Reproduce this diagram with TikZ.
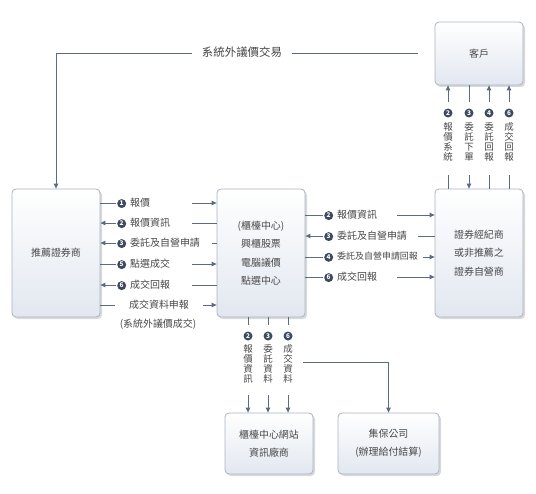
\documentclass[tikz,border=0pt]{standalone}
\usepackage{fontspec}
\setmainfont{Noto Sans CJK TC}
\usetikzlibrary{arrows.meta,shadows,calc}
\definecolor{lnc}{HTML}{5C6B82}
\definecolor{txt}{HTML}{474747}
\definecolor{bd}{HTML}{A9B3C6}
\definecolor{boxb}{HTML}{E2E7F0}
\definecolor{numc}{HTML}{3E4A5E}
\tikzset{numcirc/.style={circle,fill=numc,text=white,inner sep=0pt,minimum size=9bp,font=\bfseries\fontsize{6.5}{6.5}\selectfont}}
\newcommand\cnum[1]{\tikz[baseline=-0.5ex]\node[numcirc]{#1};\hspace{4bp}}
\begin{document}
\begin{tikzpicture}[x=1bp,y=-1bp,text=txt,
  box/.style={draw=bd,line width=0.8bp,rounded corners=4bp,top color=white,bottom color=boxb,
    drop shadow={shadow xshift=2bp,shadow yshift=-2bp,fill=black,opacity=0.15},
    align=center,text=txt,inner sep=0pt,font=\fontsize{10}{18.5}\selectfont},
  ln/.style={draw=lnc,line width=0.9bp},
  arr/.style={ln,-{Triangle[length=5bp,width=4.5bp]}},
  lab/.style={inner sep=1bp,anchor=west,font=\fontsize{10}{12}\selectfont},
  vlab/.style={align=center,inner sep=0pt,anchor=north,font=\fontsize{9.5}{10}\selectfont}]
\useasboundingbox (0,0) rectangle (536,494);

% boxes
\node[box,minimum width=88bp,minimum height=63bp] (K) at (479,53.5) {客戶};
\node[box,minimum width=88bp,minimum height=128bp] (L) at (56,253) {推薦證券商};
\node[box,minimum width=88bp,minimum height=128bp] (C) at (261,253) {(櫃檯中心)\\興櫃股票\\電腦議價\\點選中心};
\node[box,minimum width=88bp,minimum height=128bp] (R) at (479,253) {證券經紀商\\或非推薦之\\證券自營商};
\node[box,minimum width=88bp,minimum height=61bp] (W) at (269,443.5) {櫃檯中心網站\\資訊廠商};
\node[box,minimum width=101bp,minimum height=61bp] (J) at (388.5,443.5) {集保公司\\(辦理給付結算)};

% top line
\coordinate (tk) at (418,53);
\draw[arr] (tk) -| (L.north);
\node[fill=white,inner xsep=10bp,inner ysep=2bp,font=\fontsize{11.5}{12}\selectfont] (tl) at (242,52) {系統外議價交易};

% left rows
\node[lab] (a1) at (116,203) {\cnum{1}報價};
\draw[ln] (a1.west) -- (a1.west -| L.east);
\coordinate (a1e) at (192,203);
\draw[arr] (a1e) -- (a1e -| C.west);

\node[lab] (a2) at (116,223) {\cnum{2}報價資訊};
\draw[arr] (a2.west) -- (a2.west -| L.east);
\coordinate (a2e) at (192,223);
\draw[ln] (a2e) -- (a2e -| C.west);

\node[lab] (a3) at (116,243) {\cnum{3}委託及自營申請};
\draw[arr] (a3.west) -- (a3.west -| L.east);
\coordinate (a3e) at (212,243);
\draw[ln] (a3e) -- (a3e -| C.west);

\node[lab] (a4) at (116,264) {\cnum{5}點選成交};
\draw[ln] (a4.west) -- (a4.west -| L.east);
\coordinate (a4e) at (192,264);
\draw[arr] (a4e) -- (a4e -| C.west);

\node[lab] (a5) at (116,285) {\cnum{6}成交回報};
\draw[arr] (a5.west) -- (a5.west -| L.east);
\coordinate (a5e) at (192,285);
\draw[ln] (a5e) -- (a5e -| C.west);

\node[inner sep=1bp,font=\fontsize{10}{12}\selectfont] (a6) at (159,305) {成交資料申報};
\coordinate (a6w) at (115,305);
\draw[ln] (a6w) -- (a6w -| L.east);
\coordinate (a6e) at (203,305);
\draw[arr] (a6e) -- (a6e -| C.west);
\node[inner sep=1bp,font=\fontsize{10}{12}\selectfont] (a7) at (158,324) {(系統外議價成交)};

% right rows
\node[lab] (b1) at (323,215) {\cnum{2}報價資訊};
\draw[ln] (b1.west) -- (b1.west -| C.east);
\coordinate (b1e) at (397,215);
\draw[arr] (b1e) -- (b1e -| R.west);

\node[lab] (b2) at (323,236) {\cnum{3}委託及自營申請};
\draw[arr] (b2.west) -- (b2.west -| C.east);
\coordinate (b2e) at (418,236);
\draw[ln] (b2e) -- (b2e -| R.west);

\node[lab,font=\fontsize{9}{11}\selectfont] (b3) at (323,257) {\cnum{4}委託及自營申請回報};
\draw[ln] (b3.west) -- (b3.west -| C.east);
\coordinate (b3e) at (423,257);
\draw[arr] (b3e) -- (b3e -| R.west);

\node[lab] (b4) at (323,277) {\cnum{6}成交回報};
\draw[ln] (b4.west) -- (b4.west -| C.east);
\coordinate (b4e) at (397,277);
\draw[arr] (b4e) -- (b4e -| R.west);

% client verticals
\node[numcirc] (k1n) at (448,113) {2};
\node[vlab] (k1) at (448,122) {報\\價\\系\\統};
\draw[arr] ($(k1n)+(0,-11)$) -- (k1n |- K.south);
\draw[ln] ($(k1n)+(0,62)$) -- (k1n |- R.north);

\node[numcirc] (k2n) at (469,113) {3};
\node[vlab] (k2) at (469,122) {委\\託\\下\\單};
\draw[ln] ($(k2n)+(0,-11)$) -- (k2n |- K.south);
\draw[arr] ($(k2n)+(0,62)$) -- (k2n |- R.north);

\node[numcirc] (k3n) at (489,113) {4};
\node[vlab] (k3) at (489,122) {委\\託\\回\\報};
\draw[arr] ($(k3n)+(0,-11)$) -- (k3n |- K.south);
\draw[ln] ($(k3n)+(0,62)$) -- (k3n |- R.north);

\node[numcirc] (k4n) at (509,113) {6};
\node[vlab] (k4) at (509,122) {成\\交\\回\\報};
\draw[arr] ($(k4n)+(0,-11)$) -- (k4n |- K.south);
\draw[ln] ($(k4n)+(0,62)$) -- (k4n |- R.north);

% bottom verticals
\node[numcirc] (c1n) at (248,336) {2};
\node[vlab] (c1) at (248,344) {報\\價\\資\\訊};
\draw[ln] ($(c1n)+(0,-11)$) -- (c1n |- C.south);
\draw[arr] ($(c1n)+(0,59)$) -- (c1n |- W.north);

\node[numcirc] (c2n) at (268,336) {3};
\node[vlab] (c2) at (268,344) {委\\託\\資\\料};
\draw[ln] ($(c2n)+(0,-11)$) -- (c2n |- C.south);
\draw[arr] ($(c2n)+(0,59)$) -- (c2n |- W.north);

\node[numcirc] (c3n) at (288,336) {6};
\node[vlab] (c3) at (288,344) {成\\交\\資\\料};
\draw[ln] ($(c3n)+(0,-11)$) -- (c3n |- C.south);
\draw[arr] ($(c3n)+(0,59)$) -- (c3n |- W.north);

\coordinate (jb) at (303,362);
\draw[arr] (jb) -| (J.north);
\end{tikzpicture}
\end{document}
